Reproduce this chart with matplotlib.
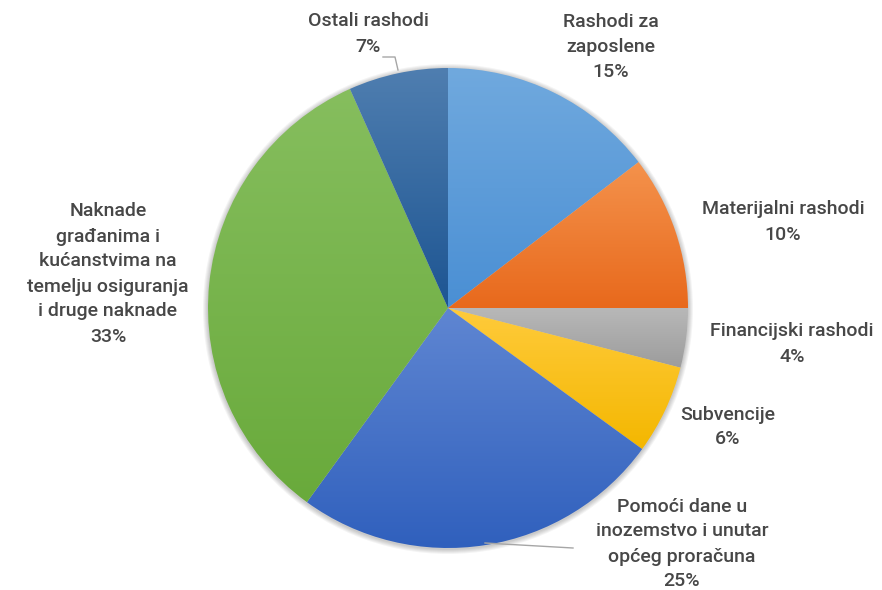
import numpy as np
import matplotlib.pyplot as plt
from matplotlib.colors import LinearSegmentedColormap
from matplotlib.patches import Circle

W, H = 882, 590

categories = ["Rashodi za\nzaposlene", "Materijalni rashodi", "Financijski rashodi",
              "Subvencije", "Pomoći dane u\ninozemstvo i unutar\nopćeg proračuna",
              "Naknade\ngrađanima i\nkućanstvima na\ntemelju osiguranja\ni druge naknade",
              "Ostali rashodi"]
shares = [14.6, 10.4, 4.0, 6.0, 25.0, 33.3, 6.7]

# top / bottom colours of each slice gradient
top_colors = ["#70a9de", "#f4924c", "#b8b8b8", "#ffcb3c", "#5f86d2", "#86be5e", "#4f7eb0"]
bottom_colors = ["#4a8fd4", "#e8691c", "#9c9c9c", "#f4b700", "#3060bd", "#69aa3b", "#1d5592"]

# label centres in pixels (from top-left)
label_pos = [(611, 47), (783, 222), (792, 344), (728, 427), (682, 544), (108, 274), (368, 34)]

center = (448, H - 308)
radius = 240


def main():
    fig = plt.figure(figsize=(W / 100, H / 100), dpi=100)
    ax = fig.add_axes([0, 0, 1, 1])

    # soft shadow round the pie
    for i in range(1, 6):
        ax.add_patch(Circle((center[0], center[1] - 1), radius + i, color="#000000",
                            alpha=0.045, lw=0, zorder=1))

    wedges, _ = ax.pie(shares, startangle=90, counterclock=False,
                       center=center, radius=radius, frame=True,
                       wedgeprops=dict(linewidth=0))

    for w, c1, c2 in zip(wedges, top_colors, bottom_colors):
        ext = w.get_path().get_extents()
        cmap = LinearSegmentedColormap.from_list("g", [c2, c1])
        grad = np.linspace(0, 1, 256).reshape(-1, 1)
        im = ax.imshow(grad, cmap=cmap, origin="lower", aspect="auto",
                       extent=[ext.x0, ext.x1, ext.y0, ext.y1], zorder=2)
        im.set_clip_path(w)
        w.set_facecolor("none")

    ax.set_xlim(0, W)
    ax.set_ylim(0, H)
    ax.axis("off")

    for name, share, (x, y) in zip(categories, shares, label_pos):
        ax.text(x, H - y, f"{name}\n{share:.0f}%", ha="center", va="center",
                fontsize=14, color="#474747", fontfamily="Roboto",
                fontweight="medium", linespacing=1.5, zorder=4)

    # leader lines
    ax.plot([383, 395, 398], [H - 57, H - 57, H - 70], color="#a6a6a6", lw=1, zorder=3)
    ax.plot([485, 573], [H - 543, H - 548], color="#a6a6a6", lw=1, zorder=3)

    fig.savefig("out.png", dpi=100, facecolor="white")


if __name__ == "__main__":
    main()
